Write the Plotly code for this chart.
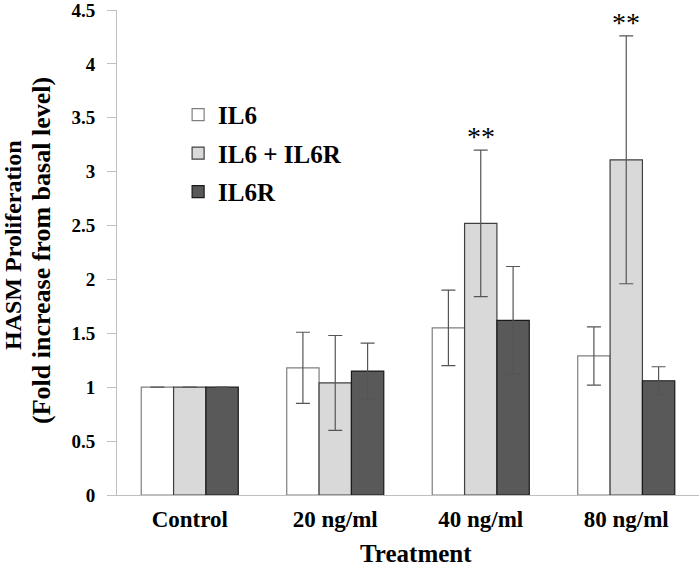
import plotly.graph_objects as go

categories = ["Control", "20 ng/ml", "40 ng/ml", "80 ng/ml"]
il6 = [1.0, 1.18, 1.55, 1.29]
il6_err = [0, 0.33, 0.35, 0.27]
il6_il6r = [1.0, 1.04, 2.52, 3.11]
il6_il6r_err = [0, 0.44, 0.68, 1.15]
il6r = [1.0, 1.15, 1.62, 1.06]
il6r_err = [0, 0.26, 0.50, 0.13]
stars = ["", "", "**", "**"]

font_family = "Liberation Serif"

fig = go.Figure()
series = [
    ("IL6", il6, il6_err, "#ffffff", "#7f7f7f"),
    ("IL6 + IL6R", il6_il6r, il6_il6r_err, "#d9d9d9", "#404040"),
    ("IL6R", il6r, il6r_err, "#595959", "#1a1a1a"),
]
for name, vals, errs, fill, line in series:
    fig.add_trace(go.Bar(
        name="<b>" + name + "</b>", x=categories, y=vals, legendgroup=name,
        marker=dict(color=fill, line=dict(color=line, width=1.2)),
        error_y=dict(type="data", array=errs, visible=True, color="#555555", thickness=1.2, width=7),
    ))

for cat, v, e, s in zip(categories, il6_il6r, il6_il6r_err, stars):
    if s:
        fig.add_annotation(x=cat, y=v + e, text=s, showarrow=False, yanchor="bottom",
                           yshift=-4, font=dict(family=font_family, size=28, color="black"))

fig.add_annotation(xref="paper", yref="paper", x=0.514, y=-72 / 485, text="<b>Treatment</b>",
                   showarrow=False, xanchor="center", yanchor="bottom", yshift=-2,
                   font=dict(family=font_family, size=25, color="black"))
fig.add_annotation(xref="paper", yref="paper", x=(13 - 117) / 582, y=(495 - 245) / 485,
                   text="<b>HASM Proliferation</b>",
                   textangle=-90, showarrow=False, xanchor="center", yanchor="middle",
                   font=dict(family=font_family, size=24, color="black"))
fig.add_annotation(xref="paper", yref="paper", x=(41 - 117) / 582, y=(495 - 251) / 485,
                   text="<b>(Fold increase from basal level)</b>",
                   textangle=-90, showarrow=False, xanchor="center", yanchor="middle",
                   font=dict(family=font_family, size=26, color="black"))

fig.update_layout(
    width=700, height=567,
    barmode="group", bargap=0.333, bargroupgap=0,
    plot_bgcolor="white", paper_bgcolor="white",
    margin=dict(l=117, r=1, t=10, b=72, autoexpand=False),
    font=dict(family=font_family, size=17, color="black"),
    showlegend=True,
    legend=dict(x=0.105, y=0.831, xanchor="left", yanchor="top",
                font=dict(family=font_family, size=25, color="black"),
                bgcolor="rgba(0,0,0,0)", tracegroupgap=3, itemwidth=30),
    xaxis=dict(
        showline=True, linecolor="#bfbfbf", linewidth=1, ticks="",
        tickfont=dict(family=font_family, size=23, weight="bold"),
        ticklabelstandoff=3, automargin=False,
    ),
    yaxis=dict(
        range=[0, 4.5], dtick=0.5, showgrid=False, zeroline=False,
        showline=True, linecolor="#bfbfbf", linewidth=1,
        ticks="outside", ticklen=9, tickcolor="#bfbfbf",
        tickfont=dict(family=font_family, size=19, weight="bold"),
        tickformat="~g", ticklabelstandoff=8, automargin=False,
        ticklabeloverflow="allow",
    ),
)

fig.write_html("out.html", config={"displayModeBar": False},
               post_script="document.body.style.margin='0';")
